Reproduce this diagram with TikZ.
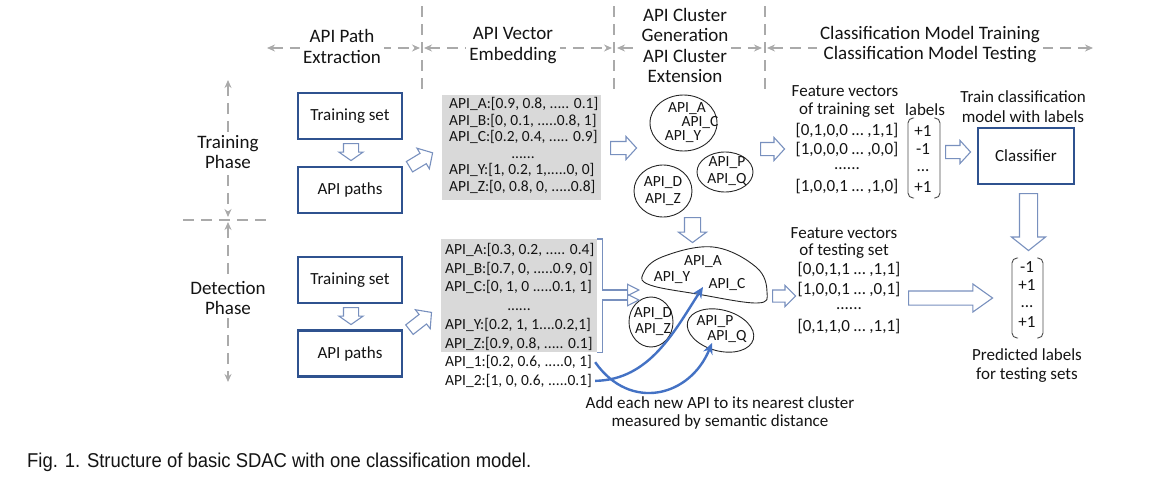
\documentclass[tikz,border=0pt]{standalone}
\usepackage{fontspec}
\setmainfont{Carlito}
\newfontfamily\capf{Liberation Sans}
\usetikzlibrary{shapes.geometric,shapes.arrows,arrows.meta}
\definecolor{textc}{RGB}{20,20,20}
\definecolor{boxblue}{RGB}{47,82,143}
\definecolor{arrowc}{RGB}{120,144,190}
\definecolor{curveblue}{RGB}{68,114,196}
\definecolor{dgray}{RGB}{170,170,170}
\definecolor{gboxc}{RGB}{217,217,217}
\newcommand\szb{\fontsize{17}{20}\selectfont}
\newcommand\szs{\fontsize{15.5}{17}\selectfont}
\newcommand\szh{\fontsize{19}{21}\selectfont}
\begin{document}
\begin{tikzpicture}[x=1pt,y=-1pt,
  txt/.style={font=\szb, text=textc, inner sep=0pt},
  stxt/.style={font=\szs, text=textc, inner sep=0pt},
  hdr/.style={font=\szh, text=textc, align=center, fill=white, inner sep=3pt},
  bbox/.style={draw=boxblue, line width=2.2pt, minimum width=104pt, minimum height=46pt, font=\szb, text=textc},
  dsh/.style={draw=dgray, line width=2pt, dash pattern=on 11pt off 7pt},
  dtip/.style={{Stealth[length=8pt,width=7pt]}-{Stealth[length=8pt,width=7pt]}},
  harrow/.style={single arrow, draw=arrowc, fill=white, line width=1.1pt, single arrow head indent=0pt, minimum width=0pt, inner xsep=0pt, anchor=tail},
  ell/.style={draw=black!85, line width=0.9pt, ellipse, inner sep=0pt},
  brk/.style={draw=arrowc, line width=1.1pt, -{Triangle[open,length=13pt,width=13pt]}},
  bcurve/.style={draw=curveblue, line width=2.4pt, -{Stealth[length=11pt,width=10pt]}},
  mbr/.style={draw=black!70, line width=0.9pt, rounded corners=5pt}]
\useasboundingbox (0,0) rectangle (1165,479);

% ---- header separators and arrows
\coordinate (v1t) at (422,6); \coordinate (v1b) at (422,90);
\coordinate (v2t) at (614,6); \coordinate (v2b) at (614,90);
\coordinate (v3t) at (765,6); \coordinate (v3b) at (765,90);
\draw[dsh] (v1t) -- (v1b);
\draw[dsh] (v2t) -- (v2b);
\draw[dsh] (v3t) -- (v3b);
\coordinate (h1a) at (267,48); \coordinate (h1b) at (420,48);
\coordinate (h2a) at (424,48); \coordinate (h2b) at (612,48);
\coordinate (h3a) at (617,48); \coordinate (h3b) at (762,48);
\coordinate (h4a) at (767,48); \coordinate (h4b) at (1093,48);
\draw[dsh,dtip] (h1a) -- (h1b);
\draw[dsh,dtip] (h2a) -- (h2b);
\draw[dsh,dtip] (h3a) -- (h3b);
\draw[dsh,dtip] (h4a) -- (h4b);
\node[hdr] (hd1) at (342,46) {API Path\\Extraction};
\node[hdr] (hd2) at (513,46) {API Vector\\Embedding};
\node[hdr, font=\fontsize{19}{20.3}\selectfont] (hd3) at (685,45.5) {API Cluster\\Generation\\API Cluster\\Extension};
\node[hdr, font=\fontsize{19}{20}\selectfont] (hd4) at (930,45) {Classification Model Training\\Classification Model Testing};

% ---- phase axis
\coordinate (p1t) at (228,80); \coordinate (p1b) at (228,217);
\coordinate (p2t) at (228,222); \coordinate (p2b) at (228,382);
\coordinate (hs1) at (183,220); \coordinate (hs2) at (273,220);
\draw[dsh,dtip] (p1t) -- (p1b);
\draw[dsh,dtip] (p2t) -- (p2b);
\draw[dsh] (hs1) -- (hs2);
\node[hdr, font=\fontsize{19}{20}\selectfont] (tph) at (228,152) {Training\\Phase};
\node[hdr, font=\fontsize{19}{20}\selectfont] (dph) at (228,298) {Detection\\Phase};

% ---- blue boxes
\node[bbox] (ts1) at (350,116) {Training set};
\node[bbox] (ap1) at (350,190) {API paths};
\node[bbox] (ts2) at (350,280) {Training set};
\node[bbox] (ap2) at (350,353.5) {API paths};

% ---- hollow block arrows
\node[harrow, rotate=-90, minimum height=17pt, inner ysep=7pt, single arrow head extend=4.5pt, single arrow tip angle=110] (a1) at (351,143) {};
\node[harrow, rotate=-90, minimum height=17pt, inner ysep=7pt, single arrow head extend=4.5pt, single arrow tip angle=110] (a2) at (351,307) {};
\node[harrow, rotate=31, minimum height=27pt, inner ysep=5.5pt, single arrow head extend=6pt, single arrow tip angle=95] (d1) at (409,167) {};
\node[harrow, rotate=38, minimum height=28pt, inner ysep=5.5pt, single arrow head extend=6pt, single arrow tip angle=95] (d2) at (409,330) {};
\node[harrow, minimum height=26pt, inner ysep=6pt, single arrow head extend=5pt, single arrow tip angle=95] (g2c) at (610,148) {};
\node[harrow, minimum height=24pt, inner ysep=6pt, single arrow head extend=5pt, single arrow tip angle=95] (c2f) at (760,149) {};
\node[harrow, minimum height=25pt, inner ysep=6pt, single arrow head extend=5pt, single arrow tip angle=95] (l2c) at (945,152) {};
\node[harrow, rotate=-90, minimum height=25pt, inner ysep=7.5pt, single arrow head extend=6pt, single arrow tip angle=107] (cd) at (692.5,217) {};
\node[harrow, rotate=-90, minimum height=57pt, inner ysep=8.5pt, single arrow head extend=8pt, single arrow tip angle=103] (clfd) at (1028.5,193) {};
\node[harrow, minimum height=23pt, inner ysep=5.5pt, single arrow head extend=4.5pt, single arrow tip angle=90] (b2f) at (772,296) {};
\node[harrow, minimum height=84pt, inner ysep=6.5pt, single arrow head extend=7pt, single arrow tip angle=71] (lng) at (908,298) {};

% ---- gray vector box 1
\node[fill=gboxc, minimum width=159pt, minimum height=105pt, inner sep=0pt, anchor=north west] (gb1) at (442,95) {};
\node[stxt, anchor=base west] (g1a) at (449,108.5) {API\_A:[0.9, 0.8, ..... 0.1]};
\node[stxt, anchor=base west] (g1b) at (449,125.1) {API\_B:[0, 0.1, .....0.8, 1]};
\node[stxt, anchor=base west] (g1c) at (449,141.7) {API\_C:[0.2, 0.4, ..... 0.9]};
\node[stxt, anchor=base] (g1d) at (523,158.3) {......};
\node[stxt, anchor=base west] (g1y) at (449,174.9) {API\_Y:[1, 0.2, 1,.....0, 0]};
\node[stxt, anchor=base west] (g1z) at (449,191.5) {API\_Z:[0, 0.8, 0, .....0.8]};

% ---- gray vector box 2
\node[fill=gboxc, minimum width=156pt, minimum height=113pt, inner sep=0pt, anchor=north west] (gb2) at (441,239) {};
\node[stxt, anchor=base west] (g2a) at (445,254.5) {API\_A:[0.3, 0.2, ..... 0.4]};
\node[stxt, anchor=base west] (g2b) at (445,273.2) {API\_B:[0.7, 0, .....0.9, 0]};
\node[stxt, anchor=base west] (g2c) at (445,291.9) {API\_C:[0, 1, 0 .....0.1, 1]};
\node[stxt, anchor=base] (g2d) at (519,310.6) {......};
\node[stxt, anchor=base west] (g2y) at (445,329.3) {API\_Y:[0.2, 1, 1....0.2,1]};
\node[stxt, anchor=base west] (g2z) at (445,348.0) {API\_Z:[0.9, 0.8, ..... 0.1]};
\node[stxt, anchor=base west] (api1) at (445,366.7) {API\_1:[0.2, 0.6, .....0, 1]};
\node[stxt, anchor=base west] (api2) at (445,385.4) {API\_2:[1, 0, 0.6, .....0.1]};

% ---- clusters (training)
\node[ell, minimum width=67pt, minimum height=56pt] (e1) at (683.5,123) {};
\node[stxt] (e1a) at (687,109) {API\_A};
\node[stxt] (e1c) at (700,123) {API\_C};
\node[stxt] (e1y) at (683,137) {API\_Y};
\node[ell, minimum width=56pt, minimum height=40pt] (e2) at (725,172) {};
\node[stxt] (e2p) at (727,163) {API\_P};
\node[stxt] (e2q) at (727,180) {API\_Q};
\node[ell, minimum width=58pt, minimum height=52pt] (e3) at (663,191) {};
\node[stxt] (e3d) at (663,183) {API\_D};
\node[stxt] (e3z) at (663,200) {API\_Z};

% ---- clusters (detection)
\draw[draw=black!85, line width=0.9pt] plot[smooth cycle, tension=0.65] coordinates {(643,274) (662,257) (713,247) (756,267) (767,292) (757,303) (697,294) (650,285)};
\coordinate (blob) at (705,275);
\node[stxt] (b1a) at (703,262) {API\_A};
\node[stxt] (b1y) at (672,278) {API\_Y};
\node[stxt] (b1c) at (727,285) {API\_C};
\node[ell, minimum width=44pt, minimum height=50pt] (e4) at (651,322) {};
\node[stxt] (e4d) at (653,314) {API\_D};
\node[stxt] (e4z) at (653,330) {API\_Z};
\node[ell, minimum width=68pt, minimum height=41pt, rotate=-15] (e5) at (720.5,330.5) {};
\node[stxt] (e5p) at (715,322) {API\_P};
\node[stxt] (e5q) at (727,337) {API\_Q};

% ---- bracket arrows into clusters
\coordinate (bk1) at (640,290);
\coordinate (bk2) at (640,300);
\draw[brk] (gb2.north east) -- ++(5,0) |- (bk1);
\draw[brk] (gb2.south east) -- ++(5,0) |- (bk2);

% ---- blue curves
\coordinate (ct1) at (703,287);
\coordinate (ct2) at (712,343);
\draw[bcurve] ([xshift=3pt]api2.east) .. controls (650,380) and (675,330) .. (ct1);
\draw[bcurve] ([xshift=3pt]api1.east) .. controls (630,412) and (690,397) .. (ct2);
\node[txt] (add1) at (720,403) {Add each new API to its nearest cluster};
\node[txt] (add2) at (720,422) {measured by semantic distance};

% ---- feature vectors (training)
\node[txt] (fv1) at (845,91) {Feature vectors};
\node[txt] (fv2) at (847,110) {of training set};
\node[txt] (lbl) at (925,110) {labels};
\node[txt] (fr1) at (847,131) {[0,1,0,0 … ,1,1]};
\node[txt] (fr2) at (847,150) {[1,0,0,0 … ,0,0]};
\node[txt] (fr3) at (847,169) {......};
\node[txt] (fr4) at (847,187) {[1,0,0,1 … ,1,0]};
\node[txt] (lb1) at (923,131) {+1};
\node[txt] (lb2) at (923,149) {-1};
\node[txt] (lb3) at (923,171) {...};
\node[txt] (lb4) at (923,187) {+1};
\coordinate (mb1) at (908,118); \coordinate (mb2) at (940,198);
\draw[mbr] (914,118) -- (mb1) -- (908,198) -- (914,198);
\draw[mbr] (934,118) -- (940,118) -- (mb2) -- (934,198);

% ---- classifier
\node[txt] (tc1) at (1023,97) {Train classification};
\node[txt] (tc2) at (1023,117) {model with labels};
\node[bbox, minimum width=96pt, minimum height=56pt] (clf) at (1026,156) {Classifier};

% ---- feature vectors (testing)
\node[txt] (ft1) at (844,233) {Feature vectors};
\node[txt] (ft2) at (844,251) {of testing set};
\node[txt] (tr1) at (849,270) {[0,0,1,1 … ,1,1]};
\node[txt] (tr2) at (849,290) {[1,0,0,1 … ,0,1]};
\node[txt] (tr3) at (849,309) {......};
\node[txt] (tr4) at (849,327) {[0,1,1,0 … ,1,1]};

% ---- predicted labels
\node[txt] (pl1) at (1027,267) {-1};
\node[txt] (pl2) at (1027,285) {+1};
\node[txt] (pl3) at (1027,307) {...};
\node[txt] (pl4) at (1027,322) {+1};
\coordinate (pb1) at (1012,258); \coordinate (pb2) at (1043,338);
\draw[mbr] (1018,258) -- (pb1) -- (1012,338) -- (1018,338);
\draw[mbr] (1037,258) -- (1043,258) -- (pb2) -- (1037,338);
\node[txt] (pr1) at (1027,355) {Predicted labels};
\node[txt] (pr2) at (1027,375) {for testing sets};

% ---- caption
\node[anchor=base west, inner sep=0pt, text=textc] (cap) at (27,467) {\resizebox{504pt}{14.5pt}{\capf Fig. 1. Structure of basic SDAC with one classification model.}};
\end{tikzpicture}
\end{document}
